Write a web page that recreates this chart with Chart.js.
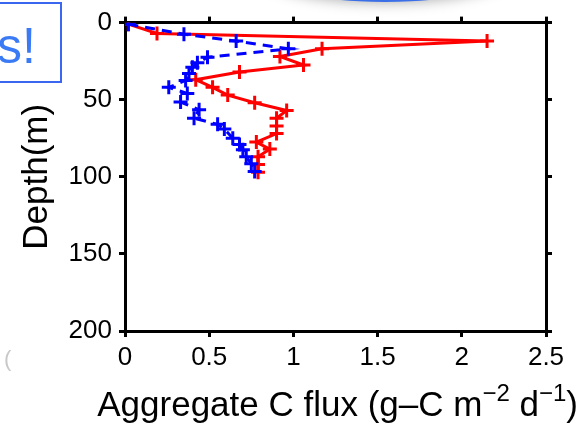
<!DOCTYPE html>
<html>
<head>
<meta charset="utf-8">
<script src="https://cdn.jsdelivr.net/npm/chart.js@4"></script>
<style>
  body { margin: 0; background: #fff; }
  #wrap { width: 584px; height: 427px; }
</style>
</head>
<body>
<div id="wrap"><canvas id="chart"></canvas></div>
<script>
// values
const redFlux = [0.02, 0.19, 2.15, 1.17, 0.92, 1.06, 0.68, 0.42, 0.52, 0.61, 0.77, 0.96, 0.90, 0.90, 0.90, 0.78, 0.86, 0.79, 0.79, 0.79];
const redDepth = [1, 7, 12, 17, 22, 27.5, 32, 37, 42, 47, 52, 57, 62, 67, 72, 77.5, 82, 87, 92, 97];
const blueFlux = [0.02, 0.35, 0.66, 0.97, 0.49, 0.43, 0.40, 0.38, 0.36, 0.26, 0.37, 0.33, 0.44, 0.41, 0.55, 0.59, 0.64, 0.68, 0.70, 0.72, 0.75, 0.77];
const blueDepth = [1, 7.5, 12, 17, 22.5, 26, 29, 33, 37.5, 42, 46, 51.5, 56.5, 62, 66, 69, 75, 79, 82.5, 87, 91.5, 96.5];
const xTicks = [0, 0.5, 1, 1.5, 2, 2.5];
const yTicks = [0, 50, 100, 150, 200];

const FONT = "'Liberation Sans', Arial, sans-serif";
const toPoints = (xs, ys) => xs.map((x, i) => ({ x, y: ys[i] }));
const setTicks = (vals) => (scale) => { scale.ticks = vals.map((value) => ({ value })); };

const axisGrid = {
  drawOnChartArea: false,
  color: "#000",
  lineWidth: 3,
  tickLength: 6,
};

// slide bits around the plot + x title with superscripts
const extras = {
  id: "extras",
  beforeDraw(chart) {
    const ctx = chart.ctx;
    ctx.save();
    // cut-off button shadow at the top
    ctx.shadowColor = "rgba(0,0,0,0.35)";
    ctx.shadowBlur = 14;
    ctx.fillStyle = "#3b6fe8";
    ctx.beginPath();
    ctx.ellipse(385, -34, 135, 36, 0, 0, Math.PI * 2);
    ctx.fill();
    ctx.restore();

    ctx.save();
    ctx.strokeStyle = "#3a66f0";
    ctx.lineWidth = 2;
    ctx.strokeRect(-5, 3, 66, 79);
    ctx.fillStyle = "#3a7af5";
    ctx.font = "50px " + FONT;
    ctx.textBaseline = "alphabetic";
    ctx.textAlign = "right";
    ctx.fillText("s!", 36, 63);
    ctx.fillStyle = "#c8c8c8";
    ctx.font = "22px " + FONT;
    ctx.textAlign = "left";
    ctx.fillText("(", 4, 366);
    ctx.restore();
  },
  afterDraw(chart) {
    const ctx = chart.ctx;
    ctx.save();
    ctx.fillStyle = "#000";
    ctx.textBaseline = "alphabetic";
    ctx.textAlign = "left";
    const big = "35px " + FONT;
    const small = "24px " + FONT;
    const parts = [
      ["Aggregate C flux (g\u2013C m", big, 0],
      ["\u22122", small, -15],
      [" d", big, 0],
      ["\u22121", small, -15],
      [")", big, 0],
    ];
    let total = 0;
    parts.forEach(([t, f]) => { ctx.font = f; total += ctx.measureText(t).width; });
    let x = 578 - total;
    const base = 416;
    parts.forEach(([t, f, dy]) => {
      ctx.font = f;
      ctx.fillText(t, x, base + dy);
      x += ctx.measureText(t).width;
    });
    ctx.restore();
  },
};

new Chart(document.getElementById("chart"), {
  type: "scatter",
  data: {
    datasets: [
      {
        data: toPoints(blueFlux, blueDepth),
        showLine: true,
        borderColor: "#0000ff",
        backgroundColor: "#0000ff",
        borderWidth: 3,
        borderDash: [10, 7],
        pointStyle: "cross",
        pointRadius: 7,
        pointBorderWidth: 3,
      },
      {
        data: toPoints(redFlux, redDepth),
        showLine: true,
        borderColor: "#ff0000",
        backgroundColor: "#ff0000",
        borderWidth: 3,
        pointStyle: "cross",
        pointRadius: 7,
        pointBorderWidth: 3,
      },
    ],
  },
  options: {
    responsive: true,
    maintainAspectRatio: false,
    animation: false,
    layout: { padding: 0 },
    plugins: {
      legend: { display: false },
      tooltip: { enabled: false },
    },
    scales: {
      x: {
        type: "linear",
        position: "bottom",
        min: 0,
        max: 2.5,
        afterBuildTicks: setTicks(xTicks),
        afterFit: (s) => { s.height = 96; },
        border: { color: "#000", width: 3 },
        grid: axisGrid,
        ticks: {
          color: "#000",
          padding: 5,
          maxRotation: 0,
          callback: (v) => String(v),
          font: { family: FONT, size: 26 },
        },
      },
      x2: {
        type: "linear",
        position: "top",
        min: 0,
        max: 2.5,
        afterBuildTicks: setTicks(xTicks),
        afterFit: (s) => { s.height = 16; },
        border: { color: "#000", width: 3 },
        grid: axisGrid,
        ticks: { display: false },
      },
      y: {
        type: "linear",
        position: "left",
        reverse: true,
        min: 0,
        max: 200,
        afterBuildTicks: setTicks(yTicks),
        afterFit: (s) => { s.width = 125; },
        border: { color: "#000", width: 3 },
        grid: axisGrid,
        ticks: {
          color: "#000",
          padding: 7,
          callback: (v) => String(v),
          font: { family: FONT, size: 26 },
        },
        title: {
          display: true,
          text: "Depth(m)",
          color: "#000",
          padding: { top: 16, bottom: 0 },
          font: { family: FONT, size: 35 },
        },
      },
      y2: {
        type: "linear",
        position: "right",
        reverse: true,
        min: 0,
        max: 200,
        afterBuildTicks: setTicks(yTicks),
        afterFit: (s) => { s.width = 38; },
        border: { color: "#000", width: 3 },
        grid: axisGrid,
        ticks: { display: false },
      },
    },
  },
  plugins: [extras],
});
</script>
</body>
</html>
